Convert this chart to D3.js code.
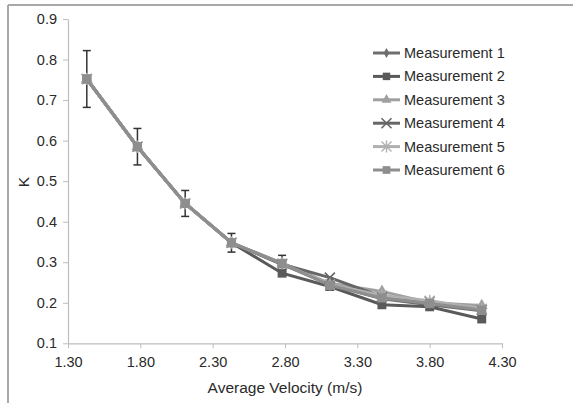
<!DOCTYPE html>
<html>
<head>
<meta charset="utf-8">
<script src="https://cdn.jsdelivr.net/npm/d3@7"></script>
<style>
  body { margin: 0; background: #fff; }
  text { font-family: "Liberation Sans", Arial, sans-serif; }
</style>
</head>
<body>
<script>
const width = 573, height = 403;

const velocity = [1.43, 1.78, 2.11, 2.43, 2.78, 3.11, 3.47, 3.80, 4.16];
const m1 = [0.752, 0.585, 0.445, 0.348, 0.295, 0.245, 0.210, 0.195, 0.180];
const m2 = [0.752, 0.585, 0.445, 0.348, 0.273, 0.240, 0.195, 0.190, 0.160];
const m3 = [0.752, 0.585, 0.445, 0.348, 0.298, 0.248, 0.228, 0.200, 0.193];
const m4 = [0.752, 0.585, 0.445, 0.348, 0.295, 0.262, 0.215, 0.203, 0.183];
const m5 = [0.752, 0.585, 0.445, 0.348, 0.297, 0.245, 0.218, 0.205, 0.185];
const m6 = [0.752, 0.585, 0.445, 0.348, 0.297, 0.243, 0.212, 0.198, 0.182];
const errors = [0.070, 0.045, 0.032, 0.023, 0.020, 0.012, 0.010, 0.008, 0.008];
const seriesNames = ["Measurement 1", "Measurement 2", "Measurement 3", "Measurement 4", "Measurement 5", "Measurement 6"];
const xTicks = [1.30, 1.80, 2.30, 2.80, 3.30, 3.80, 4.30];
const yTicks = [0.1, 0.2, 0.3, 0.4, 0.5, 0.6, 0.7, 0.8, 0.9];

const series = [
  {name: seriesNames[0], values: m1, color: "#6e6e6e", symbol: d3.symbolDiamond, size: 40},
  {name: seriesNames[1], values: m2, color: "#5a5a5a", symbol: d3.symbolSquare, size: 80},
  {name: seriesNames[2], values: m3, color: "#a0a0a0", symbol: d3.symbolTriangle, size: 60},
  {name: seriesNames[3], values: m4, color: "#666666", symbol: "x", size: 60},
  {name: seriesNames[4], values: m5, color: "#b0b0b0", symbol: "star", size: 60},
  {name: seriesNames[5], values: m6, color: "#8e8e8e", symbol: d3.symbolSquare, size: 85}
];

const svg = d3.select("body").append("svg")
  .attr("width", width)
  .attr("height", height);

// frame (top and left edges only)
svg.append("line").attr("x1", 8).attr("x2", width).attr("y1", 5).attr("y2", 5)
  .attr("stroke", "#a8a8a8").attr("stroke-width", 2);
svg.append("line").attr("x1", 8).attr("x2", 8).attr("y1", 5).attr("y2", height)
  .attr("stroke", "#a8a8a8").attr("stroke-width", 2);

const x = d3.scaleLinear().domain([1.3, 4.3]).range([68, 502]);
const y = d3.scaleLinear().domain([0.1, 0.9]).range([343.3, 19]);

const xAxis = svg.append("g")
  .attr("transform", "translate(0," + y(0.1) + ")")
  .call(d3.axisBottom(x).tickValues(xTicks).tickFormat(d3.format(".2f")).tickSize(5).tickSizeOuter(0).tickPadding(6));
const yAxis = svg.append("g")
  .attr("transform", "translate(" + x(1.3) + ",0)")
  .call(d3.axisLeft(y).tickValues(yTicks).tickFormat(d3.format(".1f")).tickSize(5).tickSizeOuter(0).tickPadding(6));

[xAxis, yAxis].forEach(g => {
  g.select(".domain").attr("stroke", "#bdbdbd").attr("stroke-width", 1.2);
  g.selectAll(".tick line").attr("stroke", "#bdbdbd");
  g.selectAll(".tick text").attr("fill", "#2a2a2a").style("font-size", "14.5px");
});
xAxis.selectAll(".tick text").attr("dy", "0.85em");

svg.append("text")
  .attr("x", 285).attr("y", 393)
  .attr("text-anchor", "middle")
  .attr("fill", "#2a2a2a")
  .style("font-size", "15.5px")
  .text("Average Velocity (m/s)");

svg.append("text")
  .attr("transform", "translate(29,182) rotate(-90)")
  .attr("text-anchor", "middle")
  .attr("fill", "#2a2a2a")
  .style("font-size", "15.5px")
  .text("K");

function drawMarker(g, s, cx, cy) {
  if (s.symbol === "x") {
    g.append("path")
      .attr("d", `M${cx-5},${cy-5}L${cx+5},${cy+5}M${cx-5},${cy+5}L${cx+5},${cy-5}`)
      .attr("stroke", s.color).attr("stroke-width", 1.6).attr("fill", "none");
  } else if (s.symbol === "star") {
    g.append("path")
      .attr("d", `M${cx-5},${cy-5}L${cx+5},${cy+5}M${cx-5},${cy+5}L${cx+5},${cy-5}M${cx},${cy-6}L${cx},${cy+6}`)
      .attr("stroke", s.color).attr("stroke-width", 1.4).attr("fill", "none");
  } else {
    g.append("path")
      .attr("d", d3.symbol().type(s.symbol).size(s.size)())
      .attr("transform", `translate(${cx},${cy})`)
      .attr("fill", s.color);
  }
}

const line = d3.line().x((d, i) => x(velocity[i])).y(d => y(d));

series.forEach(s => {
  svg.append("path")
    .datum(s.values)
    .attr("d", line)
    .attr("fill", "none")
    .attr("stroke", s.color)
    .attr("stroke-width", 3);
});

// error bars on the top series
const eb = svg.append("g");
m6.forEach((v, i) => {
  const cx = x(velocity[i]);
  const top = y(v + errors[i]), bot = y(v - errors[i]);
  eb.append("line").attr("x1", cx).attr("x2", cx).attr("y1", top).attr("y2", bot)
    .attr("stroke", "#333").attr("stroke-width", 1.5);
  [top, bot].forEach(yy => eb.append("line")
    .attr("x1", cx - 4).attr("x2", cx + 4).attr("y1", yy).attr("y2", yy)
    .attr("stroke", "#333").attr("stroke-width", 1.5));
});

series.forEach(s => {
  const g = svg.append("g");
  s.values.forEach((v, i) => drawMarker(g, s, x(velocity[i]), y(v)));
});

// legend
const legend = svg.append("g");
series.forEach((s, i) => {
  const ly = 53 + i * 23.4;
  const g = legend.append("g");
  g.append("line").attr("x1", 373).attr("x2", 400).attr("y1", ly).attr("y2", ly)
    .attr("stroke", s.color).attr("stroke-width", 3);
  drawMarker(g, Object.assign({}, s, {size: s.size * 0.7}), 386.5, ly);
  g.append("text")
    .attr("x", 404).attr("y", ly)
    .attr("dy", "0.35em")
    .attr("fill", "#2a2a2a")
    .style("font-size", "14.5px")
    .text(s.name);
});
</script>
</body>
</html>
